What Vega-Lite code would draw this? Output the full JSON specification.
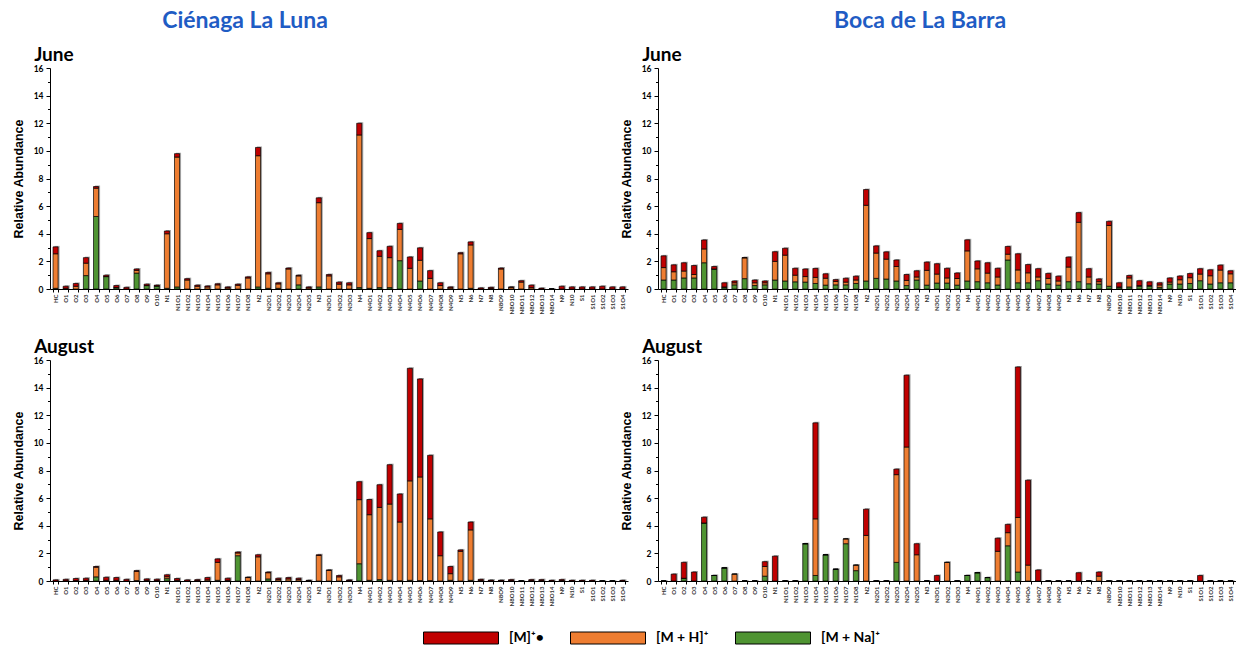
{
  "$schema": "https://vega.github.io/schema/vega-lite/v6.json",
  "padding": {"left": 12, "top": 10, "right": 0, "bottom": 0},
  "datasets": {
    "cienagaJune": [
      {"cat":"HC","sodiated":0.05,"protonated":2.5,"molecular":0.5},
      {"cat":"O1","sodiated":0,"protonated":0.05,"molecular":0.15},
      {"cat":"O2","sodiated":0,"protonated":0.2,"molecular":0.2},
      {"cat":"O3","sodiated":0.97,"protonated":0.9,"molecular":0.4},
      {"cat":"O4","sodiated":5.25,"protonated":2.05,"molecular":0.12},
      {"cat":"O5","sodiated":0.9,"protonated":0,"molecular":0.1},
      {"cat":"O6","sodiated":0.1,"protonated":0,"molecular":0.15},
      {"cat":"O7","sodiated":0,"protonated":0,"molecular":0.12},
      {"cat":"O8","sodiated":1.15,"protonated":0.2,"molecular":0.1},
      {"cat":"O9","sodiated":0.25,"protonated":0,"molecular":0.1},
      {"cat":"O10","sodiated":0.22,"protonated":0,"molecular":0.06},
      {"cat":"N1","sodiated":0.05,"protonated":3.95,"molecular":0.2},
      {"cat":"N1O1","sodiated":0.15,"protonated":9.4,"molecular":0.25},
      {"cat":"N1O2","sodiated":0,"protonated":0.65,"molecular":0.1},
      {"cat":"N1O3","sodiated":0,"protonated":0.2,"molecular":0.08},
      {"cat":"N1O4","sodiated":0,"protonated":0.15,"molecular":0.07},
      {"cat":"N1O5","sodiated":0,"protonated":0.3,"molecular":0.08},
      {"cat":"N1O6","sodiated":0,"protonated":0.08,"molecular":0.07},
      {"cat":"N1O7","sodiated":0,"protonated":0.27,"molecular":0.08},
      {"cat":"N1O8","sodiated":0,"protonated":0.8,"molecular":0.08},
      {"cat":"N2","sodiated":0.15,"protonated":9.5,"molecular":0.6},
      {"cat":"N2O1","sodiated":0.05,"protonated":1.05,"molecular":0.1},
      {"cat":"N2O2","sodiated":0.05,"protonated":0.32,"molecular":0.08},
      {"cat":"N2O3","sodiated":0,"protonated":1.45,"molecular":0.07},
      {"cat":"N2O4","sodiated":0.3,"protonated":0.65,"molecular":0.05},
      {"cat":"N2O5","sodiated":0,"protonated":0.08,"molecular":0.07},
      {"cat":"N3","sodiated":0.15,"protonated":6.1,"molecular":0.35},
      {"cat":"N3O1","sodiated":0,"protonated":0.95,"molecular":0.1},
      {"cat":"N3O2","sodiated":0,"protonated":0.35,"molecular":0.15},
      {"cat":"N3O3","sodiated":0,"protonated":0.3,"molecular":0.15},
      {"cat":"N4","sodiated":0.1,"protonated":11.05,"molecular":0.85},
      {"cat":"N4O1","sodiated":0.05,"protonated":3.6,"molecular":0.43},
      {"cat":"N4O2","sodiated":0.1,"protonated":2.27,"molecular":0.4},
      {"cat":"N4O3","sodiated":0.1,"protonated":2.17,"molecular":0.82},
      {"cat":"N4O4","sodiated":2.05,"protonated":2.27,"molecular":0.43},
      {"cat":"N4O5","sodiated":0,"protonated":1.5,"molecular":0.82},
      {"cat":"N4O6","sodiated":0.58,"protonated":1.5,"molecular":0.9},
      {"cat":"N4O7","sodiated":0,"protonated":0.77,"molecular":0.56},
      {"cat":"N4O8","sodiated":0,"protonated":0.25,"molecular":0.2},
      {"cat":"N4O9","sodiated":0,"protonated":0.08,"molecular":0.07},
      {"cat":"N5","sodiated":0,"protonated":2.55,"molecular":0.08},
      {"cat":"N6","sodiated":0.05,"protonated":3.14,"molecular":0.22},
      {"cat":"N7","sodiated":0,"protonated":0,"molecular":0.08},
      {"cat":"N8","sodiated":0,"protonated":0.05,"molecular":0.07},
      {"cat":"N8O9","sodiated":0,"protonated":1.45,"molecular":0.07},
      {"cat":"N8O10","sodiated":0,"protonated":0.12,"molecular":0.03},
      {"cat":"N8O11","sodiated":0,"protonated":0.5,"molecular":0.1},
      {"cat":"N8O12","sodiated":0,"protonated":0.1,"molecular":0.18},
      {"cat":"N8O13","sodiated":0,"protonated":0,"molecular":0.06},
      {"cat":"N8O14","sodiated":0,"protonated":0,"molecular":0},
      {"cat":"N9","sodiated":0,"protonated":0,"molecular":0.2},
      {"cat":"N10","sodiated":0,"protonated":0,"molecular":0.15},
      {"cat":"S1","sodiated":0,"protonated":0,"molecular":0.15},
      {"cat":"S1O1","sodiated":0,"protonated":0,"molecular":0.15},
      {"cat":"S1O2","sodiated":0,"protonated":0,"molecular":0.2},
      {"cat":"S1O3","sodiated":0,"protonated":0,"molecular":0.15},
      {"cat":"S1O4","sodiated":0,"protonated":0,"molecular":0.15}
    ],
    "cienagaAugust": [
      {"cat":"HC","sodiated":0,"protonated":0,"molecular":0.08},
      {"cat":"O1","sodiated":0,"protonated":0.02,"molecular":0.1},
      {"cat":"O2","sodiated":0,"protonated":0.03,"molecular":0.15},
      {"cat":"O3","sodiated":0,"protonated":0.05,"molecular":0.15},
      {"cat":"O4","sodiated":0.3,"protonated":0.7,"molecular":0.05},
      {"cat":"O5","sodiated":0,"protonated":0.05,"molecular":0.22},
      {"cat":"O6","sodiated":0,"protonated":0.05,"molecular":0.2},
      {"cat":"O7","sodiated":0,"protonated":0,"molecular":0.12},
      {"cat":"O8","sodiated":0.03,"protonated":0.67,"molecular":0.05},
      {"cat":"O9","sodiated":0,"protonated":0.05,"molecular":0.1},
      {"cat":"O10","sodiated":0,"protonated":0.03,"molecular":0.1},
      {"cat":"N1","sodiated":0.17,"protonated":0.14,"molecular":0.14},
      {"cat":"N1O1","sodiated":0,"protonated":0.05,"molecular":0.13},
      {"cat":"N1O2","sodiated":0,"protonated":0,"molecular":0.08},
      {"cat":"N1O3","sodiated":0,"protonated":0.03,"molecular":0.07},
      {"cat":"N1O4","sodiated":0,"protonated":0.08,"molecular":0.17},
      {"cat":"N1O5","sodiated":0.05,"protonated":1.3,"molecular":0.25},
      {"cat":"N1O6","sodiated":0,"protonated":0.05,"molecular":0.15},
      {"cat":"N1O7","sodiated":1.83,"protonated":0.2,"molecular":0.07},
      {"cat":"N1O8","sodiated":0,"protonated":0.25,"molecular":0.03},
      {"cat":"N2","sodiated":0,"protonated":1.75,"molecular":0.15},
      {"cat":"N2O1","sodiated":0.15,"protonated":0.45,"molecular":0.05},
      {"cat":"N2O2","sodiated":0,"protonated":0.1,"molecular":0.1},
      {"cat":"N2O3","sodiated":0,"protonated":0.15,"molecular":0.1},
      {"cat":"N2O4","sodiated":0,"protonated":0.1,"molecular":0.1},
      {"cat":"N2O5","sodiated":0,"protonated":0.03,"molecular":0.02},
      {"cat":"N3","sodiated":0,"protonated":1.85,"molecular":0.05},
      {"cat":"N3O1","sodiated":0,"protonated":0.77,"molecular":0.03},
      {"cat":"N3O2","sodiated":0,"protonated":0.3,"molecular":0.1},
      {"cat":"N3O3","sodiated":0,"protonated":0.03,"molecular":0.05},
      {"cat":"N4","sodiated":1.25,"protonated":4.64,"molecular":1.3},
      {"cat":"N4O1","sodiated":0.05,"protonated":4.75,"molecular":1.1},
      {"cat":"N4O2","sodiated":0.1,"protonated":5.23,"molecular":1.64},
      {"cat":"N4O3","sodiated":0.05,"protonated":5.52,"molecular":2.85},
      {"cat":"N4O4","sodiated":0.02,"protonated":4.25,"molecular":2.03},
      {"cat":"N4O5","sodiated":0.05,"protonated":7.2,"molecular":8.15},
      {"cat":"N4O6","sodiated":0.03,"protonated":7.5,"molecular":7.1},
      {"cat":"N4O7","sodiated":0.03,"protonated":4.47,"molecular":4.6},
      {"cat":"N4O8","sodiated":0,"protonated":1.83,"molecular":1.72},
      {"cat":"N4O9","sodiated":0.05,"protonated":0.48,"molecular":0.52},
      {"cat":"N5","sodiated":0,"protonated":2.15,"molecular":0.1},
      {"cat":"N6","sodiated":0.05,"protonated":3.65,"molecular":0.57},
      {"cat":"N7","sodiated":0,"protonated":0.05,"molecular":0.07},
      {"cat":"N8","sodiated":0,"protonated":0.02,"molecular":0.05},
      {"cat":"N8O9","sodiated":0,"protonated":0.02,"molecular":0.04},
      {"cat":"N8O10","sodiated":0,"protonated":0.03,"molecular":0.07},
      {"cat":"N8O11","sodiated":0,"protonated":0,"molecular":0},
      {"cat":"N8O12","sodiated":0,"protonated":0.03,"molecular":0.07},
      {"cat":"N8O13","sodiated":0,"protonated":0.03,"molecular":0.07},
      {"cat":"N8O14","sodiated":0,"protonated":0,"molecular":0.05},
      {"cat":"N9","sodiated":0,"protonated":0.03,"molecular":0.07},
      {"cat":"N10","sodiated":0,"protonated":0,"molecular":0.05},
      {"cat":"S1","sodiated":0,"protonated":0,"molecular":0.05},
      {"cat":"S1O1","sodiated":0,"protonated":0,"molecular":0.05},
      {"cat":"S1O2","sodiated":0,"protonated":0,"molecular":0},
      {"cat":"S1O3","sodiated":0,"protonated":0,"molecular":0},
      {"cat":"S1O4","sodiated":0,"protonated":0,"molecular":0.05}
    ],
    "bocaJune": [
      {"cat":"HC","sodiated":0.65,"protonated":0.9,"molecular":0.85},
      {"cat":"O1","sodiated":0.65,"protonated":0.6,"molecular":0.5},
      {"cat":"O2","sodiated":0.8,"protonated":0.5,"molecular":0.6},
      {"cat":"O3","sodiated":0.8,"protonated":0.25,"molecular":0.65},
      {"cat":"O4","sodiated":1.9,"protonated":1.0,"molecular":0.65},
      {"cat":"O5","sodiated":1.45,"protonated":0,"molecular":0.18},
      {"cat":"O6","sodiated":0.1,"protonated":0.05,"molecular":0.3},
      {"cat":"O7","sodiated":0.3,"protonated":0.15,"molecular":0.13},
      {"cat":"O8","sodiated":0.75,"protonated":1.5,"molecular":0.03},
      {"cat":"O9","sodiated":0.25,"protonated":0.2,"molecular":0.2},
      {"cat":"O10","sodiated":0.3,"protonated":0.15,"molecular":0.13},
      {"cat":"N1","sodiated":0.65,"protonated":1.35,"molecular":0.7},
      {"cat":"N1O1","sodiated":0.58,"protonated":1.87,"molecular":0.5},
      {"cat":"N1O2","sodiated":0.52,"protonated":0.48,"molecular":0.5},
      {"cat":"N1O3","sodiated":0.5,"protonated":0.4,"molecular":0.55},
      {"cat":"N1O4","sodiated":0.4,"protonated":0.44,"molecular":0.65},
      {"cat":"N1O5","sodiated":0.28,"protonated":0.5,"molecular":0.32},
      {"cat":"N1O6","sodiated":0.3,"protonated":0.25,"molecular":0.13},
      {"cat":"N1O7","sodiated":0.3,"protonated":0.2,"molecular":0.28},
      {"cat":"N1O8","sodiated":0.4,"protonated":0.25,"molecular":0.28},
      {"cat":"N2","sodiated":0.58,"protonated":5.48,"molecular":1.14},
      {"cat":"N2O1","sodiated":0.77,"protonated":1.83,"molecular":0.52},
      {"cat":"N2O2","sodiated":0.72,"protonated":1.44,"molecular":0.53},
      {"cat":"N2O3","sodiated":0.58,"protonated":1.05,"molecular":0.47},
      {"cat":"N2O4","sodiated":0.25,"protonated":0.37,"molecular":0.43},
      {"cat":"N2O5","sodiated":0.65,"protonated":0.22,"molecular":0.45},
      {"cat":"N3","sodiated":0.28,"protonated":1.07,"molecular":0.6},
      {"cat":"N3O1","sodiated":0.43,"protonated":0.65,"molecular":0.75},
      {"cat":"N3O2","sodiated":0.43,"protonated":0.37,"molecular":0.7},
      {"cat":"N3O3","sodiated":0.28,"protonated":0.48,"molecular":0.4},
      {"cat":"N4","sodiated":0.58,"protonated":2.18,"molecular":0.8},
      {"cat":"N4O1","sodiated":0.53,"protonated":0.93,"molecular":0.57},
      {"cat":"N4O2","sodiated":0.45,"protonated":0.7,"molecular":0.75},
      {"cat":"N4O3","sodiated":0.29,"protonated":0.58,"molecular":0.63},
      {"cat":"N4O4","sodiated":2.1,"protonated":0.42,"molecular":0.56},
      {"cat":"N4O5","sodiated":0.45,"protonated":0.93,"molecular":1.17},
      {"cat":"N4O6","sodiated":0.45,"protonated":0.72,"molecular":0.6},
      {"cat":"N4O7","sodiated":0.6,"protonated":0.27,"molecular":0.6},
      {"cat":"N4O8","sodiated":0.36,"protonated":0.41,"molecular":0.36},
      {"cat":"N4O9","sodiated":0.28,"protonated":0.3,"molecular":0.35},
      {"cat":"N5","sodiated":0.53,"protonated":1.06,"molecular":0.72},
      {"cat":"N6","sodiated":0.53,"protonated":4.3,"molecular":0.7},
      {"cat":"N7","sodiated":0.38,"protonated":0.49,"molecular":0.6},
      {"cat":"N8","sodiated":0.36,"protonated":0.17,"molecular":0.2},
      {"cat":"N8O9","sodiated":0.2,"protonated":4.4,"molecular":0.3},
      {"cat":"N8O10","sodiated":0.1,"protonated":0.05,"molecular":0.3},
      {"cat":"N8O11","sodiated":0.15,"protonated":0.65,"molecular":0.18},
      {"cat":"N8O12","sodiated":0.2,"protonated":0.05,"molecular":0.35},
      {"cat":"N8O13","sodiated":0.2,"protonated":0.05,"molecular":0.27},
      {"cat":"N8O14","sodiated":0.12,"protonated":0.17,"molecular":0.16},
      {"cat":"N9","sodiated":0.36,"protonated":0.14,"molecular":0.3},
      {"cat":"N10","sodiated":0.36,"protonated":0.31,"molecular":0.27},
      {"cat":"S1","sodiated":0.4,"protonated":0.42,"molecular":0.3},
      {"cat":"S1O1","sodiated":0.6,"protonated":0.48,"molecular":0.39},
      {"cat":"S1O2","sodiated":0.36,"protonated":0.6,"molecular":0.43},
      {"cat":"S1O3","sodiated":0.45,"protonated":0.92,"molecular":0.36},
      {"cat":"S1O4","sodiated":0.45,"protonated":0.65,"molecular":0.22}
    ],
    "bocaAugust": [
      {"cat":"HC","sodiated":0,"protonated":0,"molecular":0},
      {"cat":"O1","sodiated":0,"protonated":0,"molecular":0.5},
      {"cat":"O2","sodiated":0.2,"protonated":0,"molecular":1.15},
      {"cat":"O3","sodiated":0,"protonated":0,"molecular":0.65},
      {"cat":"O4","sodiated":4.2,"protonated":0,"molecular":0.42},
      {"cat":"O5","sodiated":0.4,"protonated":0,"molecular":0},
      {"cat":"O6","sodiated":0.95,"protonated":0,"molecular":0},
      {"cat":"O7","sodiated":0,"protonated":0.5,"molecular":0},
      {"cat":"O8","sodiated":0,"protonated":0,"molecular":0},
      {"cat":"O9","sodiated":0,"protonated":0,"molecular":0},
      {"cat":"O10","sodiated":0.35,"protonated":0.7,"molecular":0.35},
      {"cat":"N1","sodiated":0,"protonated":0,"molecular":1.8},
      {"cat":"N1O1","sodiated":0,"protonated":0,"molecular":0},
      {"cat":"N1O2","sodiated":0,"protonated":0,"molecular":0},
      {"cat":"N1O3","sodiated":2.7,"protonated":0,"molecular":0},
      {"cat":"N1O4","sodiated":0.4,"protonated":4.1,"molecular":6.95},
      {"cat":"N1O5","sodiated":1.9,"protonated":0,"molecular":0},
      {"cat":"N1O6","sodiated":0.85,"protonated":0,"molecular":0},
      {"cat":"N1O7","sodiated":2.7,"protonated":0.35,"molecular":0},
      {"cat":"N1O8","sodiated":0.75,"protonated":0.4,"molecular":0},
      {"cat":"N2","sodiated":0,"protonated":3.3,"molecular":1.9},
      {"cat":"N2O1","sodiated":0,"protonated":0,"molecular":0},
      {"cat":"N2O2","sodiated":0,"protonated":0,"molecular":0},
      {"cat":"N2O3","sodiated":1.35,"protonated":6.35,"molecular":0.4},
      {"cat":"N2O4","sodiated":0,"protonated":9.7,"molecular":5.2},
      {"cat":"N2O5","sodiated":0,"protonated":1.9,"molecular":0.8},
      {"cat":"N3","sodiated":0,"protonated":0,"molecular":0},
      {"cat":"N3O1","sodiated":0,"protonated":0,"molecular":0.4},
      {"cat":"N3O2","sodiated":0,"protonated":1.35,"molecular":0},
      {"cat":"N3O3","sodiated":0,"protonated":0,"molecular":0},
      {"cat":"N4","sodiated":0.4,"protonated":0,"molecular":0},
      {"cat":"N4O1","sodiated":0.6,"protonated":0,"molecular":0},
      {"cat":"N4O2","sodiated":0.25,"protonated":0,"molecular":0},
      {"cat":"N4O3","sodiated":0,"protonated":2.15,"molecular":0.95},
      {"cat":"N4O4","sodiated":2.55,"protonated":0.95,"molecular":0.6},
      {"cat":"N4O5","sodiated":0.65,"protonated":3.95,"molecular":10.9},
      {"cat":"N4O6","sodiated":0,"protonated":1.15,"molecular":6.15},
      {"cat":"N4O7","sodiated":0,"protonated":0,"molecular":0.8},
      {"cat":"N4O8","sodiated":0,"protonated":0,"molecular":0},
      {"cat":"N4O9","sodiated":0,"protonated":0,"molecular":0},
      {"cat":"N5","sodiated":0,"protonated":0,"molecular":0},
      {"cat":"N6","sodiated":0,"protonated":0,"molecular":0.6},
      {"cat":"N7","sodiated":0,"protonated":0,"molecular":0},
      {"cat":"N8","sodiated":0,"protonated":0.35,"molecular":0.3},
      {"cat":"N8O9","sodiated":0,"protonated":0,"molecular":0},
      {"cat":"N8O10","sodiated":0,"protonated":0,"molecular":0},
      {"cat":"N8O11","sodiated":0,"protonated":0,"molecular":0},
      {"cat":"N8O12","sodiated":0,"protonated":0,"molecular":0},
      {"cat":"N8O13","sodiated":0,"protonated":0,"molecular":0},
      {"cat":"N8O14","sodiated":0,"protonated":0,"molecular":0},
      {"cat":"N9","sodiated":0,"protonated":0,"molecular":0},
      {"cat":"N10","sodiated":0,"protonated":0,"molecular":0},
      {"cat":"S1","sodiated":0,"protonated":0,"molecular":0},
      {"cat":"S1O1","sodiated":0,"protonated":0,"molecular":0.4},
      {"cat":"S1O2","sodiated":0,"protonated":0,"molecular":0},
      {"cat":"S1O3","sodiated":0,"protonated":0,"molecular":0},
      {"cat":"S1O4","sodiated":0,"protonated":0,"molecular":0}
    ]
  },
  "hconcat": [
    {
      "title": {"text": "Ciénaga La Luna", "anchor": "middle", "dx": -75, "offset": 13, "fontSize": 23, "color": "#1F5CC4"},
      "bounds": "flush",
      "spacing": 71,
      "vconcat": [
        {
          "title": {"text": "June"},
          "width": 578, "height": 221,
          "data": {"name": "cienagaJune"},
          "transform": [{"fold": ["sodiated", "protonated", "molecular"], "as": ["ion", "abundance"]}],
          "encoding": {"x": {"field": "cat", "type": "nominal", "sort": null, "scale": {"paddingInner": 0.5, "paddingOuter": 0.3}}},
          "layer": [
            {
              "mark": {"type": "bar", "color": "#a6a6a6", "xOffset": 1.5, "yOffset": -1},
              "encoding": {"y": {"aggregate": "sum", "field": "abundance", "type": "quantitative", "title": "Relative Abundance",
                                 "scale": {"domain": [0, 16], "nice": false},
                                 "axis": {"values": [0,0.5,1,1.5,2,2.5,3,3.5,4,4.5,5,5.5,6,6.5,7,7.5,8,8.5,9,9.5,10,10.5,11,11.5,12,12.5,13,13.5,14,14.5,15,15.5,16],
                                          "format": "d", "labelOverlap": false, "labelExpr": "datum.value % 2 === 0 ? datum.label : ''",
                                          "tickSize": {"condition": {"test": "datum.value % 2 === 0", "value": 4}, "value": 2.5}}}}
            },
            {
              "mark": {"type": "bar", "stroke": "black", "strokeWidth": 0.7},
              "encoding": {
                "y": {"field": "abundance", "type": "quantitative", "stack": "zero", "title": "Relative Abundance",
                      "axis": {"values": [0,0.5,1,1.5,2,2.5,3,3.5,4,4.5,5,5.5,6,6.5,7,7.5,8,8.5,9,9.5,10,10.5,11,11.5,12,12.5,13,13.5,14,14.5,15,15.5,16],
                               "format": "d", "labelOverlap": false, "labelExpr": "datum.value % 2 === 0 ? datum.label : ''",
                               "tickSize": {"condition": {"test": "datum.value % 2 === 0", "value": 4}, "value": 2.5}}},
                "color": {"field": "ion", "type": "nominal",
                          "scale": {"domain": ["molecular", "protonated", "sodiated"], "range": ["#C00000", "#EE7D31", "#4F9432"]},
                          "legend": {"labelExpr": "datum.label === 'molecular' ? '[M]⁺•' : datum.label === 'protonated' ? '[M + H]⁺' : '[M + Na]⁺'"}},
                "order": {"field": "ion", "sort": "descending"}
              }
            }
          ]
        },
        {
          "title": {"text": "August"},
          "width": 578, "height": 221,
          "data": {"name": "cienagaAugust"},
          "transform": [{"fold": ["sodiated", "protonated", "molecular"], "as": ["ion", "abundance"]}],
          "encoding": {"x": {"field": "cat", "type": "nominal", "sort": null, "scale": {"paddingInner": 0.5, "paddingOuter": 0.3}}},
          "layer": [
            {
              "mark": {"type": "bar", "color": "#a6a6a6", "xOffset": 1.5, "yOffset": -1},
              "encoding": {"y": {"aggregate": "sum", "field": "abundance", "type": "quantitative", "title": "Relative Abundance",
                                 "scale": {"domain": [0, 16], "nice": false},
                                 "axis": {"values": [0,0.5,1,1.5,2,2.5,3,3.5,4,4.5,5,5.5,6,6.5,7,7.5,8,8.5,9,9.5,10,10.5,11,11.5,12,12.5,13,13.5,14,14.5,15,15.5,16],
                                          "format": "d", "labelOverlap": false, "labelExpr": "datum.value % 2 === 0 ? datum.label : ''",
                                          "tickSize": {"condition": {"test": "datum.value % 2 === 0", "value": 4}, "value": 2.5}}}}
            },
            {
              "mark": {"type": "bar", "stroke": "black", "strokeWidth": 0.7},
              "encoding": {
                "y": {"field": "abundance", "type": "quantitative", "stack": "zero", "title": "Relative Abundance",
                      "axis": {"values": [0,0.5,1,1.5,2,2.5,3,3.5,4,4.5,5,5.5,6,6.5,7,7.5,8,8.5,9,9.5,10,10.5,11,11.5,12,12.5,13,13.5,14,14.5,15,15.5,16],
                               "format": "d", "labelOverlap": false, "labelExpr": "datum.value % 2 === 0 ? datum.label : ''",
                               "tickSize": {"condition": {"test": "datum.value % 2 === 0", "value": 4}, "value": 2.5}}},
                "color": {"field": "ion", "type": "nominal",
                          "scale": {"domain": ["molecular", "protonated", "sodiated"], "range": ["#C00000", "#EE7D31", "#4F9432"]},
                          "legend": {"labelExpr": "datum.label === 'molecular' ? '[M]⁺•' : datum.label === 'protonated' ? '[M + H]⁺' : '[M + Na]⁺'"}},
                "order": {"field": "ion", "sort": "descending"}
              }
            }
          ]
        }
      ]
    },
    {
      "title": {"text": "Boca de La Barra", "anchor": "middle", "dx": -8, "offset": 13, "fontSize": 23, "color": "#1F5CC4"},
      "bounds": "flush",
      "spacing": 71,
      "vconcat": [
        {
          "title": {"text": "June"},
          "width": 578, "height": 221,
          "data": {"name": "bocaJune"},
          "transform": [{"fold": ["sodiated", "protonated", "molecular"], "as": ["ion", "abundance"]}],
          "encoding": {"x": {"field": "cat", "type": "nominal", "sort": null, "scale": {"paddingInner": 0.5, "paddingOuter": 0.3}}},
          "layer": [
            {
              "mark": {"type": "bar", "color": "#a6a6a6", "xOffset": 1.5, "yOffset": -1},
              "encoding": {"y": {"aggregate": "sum", "field": "abundance", "type": "quantitative", "title": "Relative Abundance",
                                 "scale": {"domain": [0, 16], "nice": false},
                                 "axis": {"values": [0,0.5,1,1.5,2,2.5,3,3.5,4,4.5,5,5.5,6,6.5,7,7.5,8,8.5,9,9.5,10,10.5,11,11.5,12,12.5,13,13.5,14,14.5,15,15.5,16],
                                          "format": "d", "labelOverlap": false, "labelExpr": "datum.value % 2 === 0 ? datum.label : ''",
                                          "tickSize": {"condition": {"test": "datum.value % 2 === 0", "value": 4}, "value": 2.5}}}}
            },
            {
              "mark": {"type": "bar", "stroke": "black", "strokeWidth": 0.7},
              "encoding": {
                "y": {"field": "abundance", "type": "quantitative", "stack": "zero", "title": "Relative Abundance",
                      "axis": {"values": [0,0.5,1,1.5,2,2.5,3,3.5,4,4.5,5,5.5,6,6.5,7,7.5,8,8.5,9,9.5,10,10.5,11,11.5,12,12.5,13,13.5,14,14.5,15,15.5,16],
                               "format": "d", "labelOverlap": false, "labelExpr": "datum.value % 2 === 0 ? datum.label : ''",
                               "tickSize": {"condition": {"test": "datum.value % 2 === 0", "value": 4}, "value": 2.5}}},
                "color": {"field": "ion", "type": "nominal",
                          "scale": {"domain": ["molecular", "protonated", "sodiated"], "range": ["#C00000", "#EE7D31", "#4F9432"]},
                          "legend": {"labelExpr": "datum.label === 'molecular' ? '[M]⁺•' : datum.label === 'protonated' ? '[M + H]⁺' : '[M + Na]⁺'"}},
                "order": {"field": "ion", "sort": "descending"}
              }
            }
          ]
        },
        {
          "title": {"text": "August"},
          "width": 578, "height": 221,
          "data": {"name": "bocaAugust"},
          "transform": [{"fold": ["sodiated", "protonated", "molecular"], "as": ["ion", "abundance"]}],
          "encoding": {"x": {"field": "cat", "type": "nominal", "sort": null, "scale": {"paddingInner": 0.5, "paddingOuter": 0.3}}},
          "layer": [
            {
              "mark": {"type": "bar", "color": "#a6a6a6", "xOffset": 1.5, "yOffset": -1},
              "encoding": {"y": {"aggregate": "sum", "field": "abundance", "type": "quantitative", "title": "Relative Abundance",
                                 "scale": {"domain": [0, 16], "nice": false},
                                 "axis": {"values": [0,0.5,1,1.5,2,2.5,3,3.5,4,4.5,5,5.5,6,6.5,7,7.5,8,8.5,9,9.5,10,10.5,11,11.5,12,12.5,13,13.5,14,14.5,15,15.5,16],
                                          "format": "d", "labelOverlap": false, "labelExpr": "datum.value % 2 === 0 ? datum.label : ''",
                                          "tickSize": {"condition": {"test": "datum.value % 2 === 0", "value": 4}, "value": 2.5}}}}
            },
            {
              "mark": {"type": "bar", "stroke": "black", "strokeWidth": 0.7},
              "encoding": {
                "y": {"field": "abundance", "type": "quantitative", "stack": "zero", "title": "Relative Abundance",
                      "axis": {"values": [0,0.5,1,1.5,2,2.5,3,3.5,4,4.5,5,5.5,6,6.5,7,7.5,8,8.5,9,9.5,10,10.5,11,11.5,12,12.5,13,13.5,14,14.5,15,15.5,16],
                               "format": "d", "labelOverlap": false, "labelExpr": "datum.value % 2 === 0 ? datum.label : ''",
                               "tickSize": {"condition": {"test": "datum.value % 2 === 0", "value": 4}, "value": 2.5}}},
                "color": {"field": "ion", "type": "nominal",
                          "scale": {"domain": ["molecular", "protonated", "sodiated"], "range": ["#C00000", "#EE7D31", "#4F9432"]},
                          "legend": {"labelExpr": "datum.label === 'molecular' ? '[M]⁺•' : datum.label === 'protonated' ? '[M + H]⁺' : '[M + Na]⁺'"}},
                "order": {"field": "ion", "sort": "descending"}
              }
            }
          ]
        }
      ]
    }
  ],
  "spacing": -8,
  "config": {
    "background": "white",
    "view": {"stroke": null},
    "title": {"font": "Lato", "fontSize": 19, "fontWeight": "bold", "color": "black", "anchor": "start", "dx": 22, "offset": -1},
    "axis": {"grid": false, "domainColor": "black", "tickColor": "black", "domainWidth": 1},
    "axisX": {"title": null, "labelAngle": -90, "labelFont": "Lato", "labelFontWeight": "bold", "labelFontSize": 6, "labelColor": "#333333",
              "labelOverlap": false, "tickBand": "extent", "tickSize": 3, "labelPadding": 2},
    "axisY": {"labelFont": "Lato", "labelFontWeight": "bold", "labelFontSize": 8.5, "labelColor": "black", "labelPadding": 3, "labelOverlap": false,
              "titleFont": "Liberation Sans", "titleFontSize": 12.5, "titleFontWeight": "bold", "titleColor": "black", "titlePadding": 8},
    "legend": {"title": null, "orient": "none", "legendX": 373, "legendY": 532, "direction": "horizontal",
               "symbolType": "M-1,-0.16H1V0.16H-1Z", "symbolSize": 5625, "symbolStrokeColor": "black", "symbolStrokeWidth": 1,
               "labelFont": "Lato", "labelFontSize": 14, "labelFontWeight": "bold", "labelColor": "black", "labelOffset": 10,
               "columnPadding": 24}
  }
}
